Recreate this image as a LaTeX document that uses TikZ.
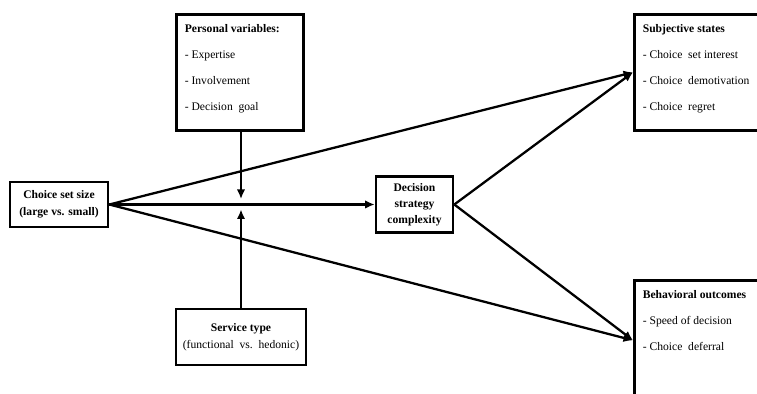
\documentclass[tikz,border=0pt]{standalone}
\usepackage{fontspec}
\setmainfont{Liberation Serif}
\usetikzlibrary{positioning,arrows.meta,calc}

\begin{document}
\begin{tikzpicture}[
    font=\fontsize{6.6}{9.4}\selectfont,
    box/.style={rectangle, draw=black, line width=1.5pt, minimum width=#1, align=center, inner sep=2pt, fill=white},
    listbox/.style={rectangle, draw=black, line width=1.5pt, anchor=north west, inner xsep=0.17cm, inner ysep=0.2cm, fill=white},
    arr/.style={-{Latex[length=1.9mm,width=1.7mm]}, line width=1.3pt, draw=black}
]

% Frame of the picture
\clip (0,0) rectangle (15.14,7.88);
\fill[white] (0,0) rectangle (15.14,7.88);

% Left: independent variable
\node[box=1.96cm, minimum height=0.9cm] (choice) at (1.18, 3.79) {\textbf{Choice set size}\\\textbf{(large vs. small)}};

% Moderators
\node[listbox] (personal) at (3.5, 7.62) {\parbox[t][1.92cm][t]{2.2cm}{\raggedright\fontsize{6.6}{14.75}\selectfont
  \textbf{Personal variables:}\\- Expertise\\- Involvement\\- Decision\ \ goal}};
\node[box=2.6cm, minimum height=1.12cm] (service) at (4.82, 1.14) {\textbf{Service type}\\(functional\ \ vs.\ \ hedonic)};

% Mediator
\node[box=1.54cm, minimum height=1.12cm, font=\fontsize{6.6}{9}\selectfont\bfseries] (decision) at (8.29, 3.79) {Decision\\strategy\\complexity};

% Outcomes
\node[listbox] (subj) at (12.66, 7.62) {\parbox[t][1.92cm][t]{2.46cm}{\raggedright\fontsize{6.6}{14.75}\selectfont
  \textbf{Subjective states}\\- Choice\ \ set interest\\- Choice\ \ demotivation\\- Choice\ \ regret}};
\node[listbox] (behav) at (12.66, 2.3) {\parbox[t][2.0cm][t]{2.46cm}{\raggedright\fontsize{6.6}{14.75}\selectfont
  \textbf{Behavioral outcomes}\\- Speed of decision\\- Choice\ \ deferral}};

% Main paths
\draw[arr] (choice) -- (decision);
\draw[arr] (choice.east) -- (subj.west);
\draw[arr] (choice.east) -- (behav.west);
\draw[arr] (decision.east) -- (subj.west);
\draw[arr] (decision.east) -- (behav.west);

% Moderating arrows
\coordinate (modtop) at (4.82, 3.9);
\coordinate (modbot) at (4.82, 3.69);
\draw[arr] (personal.south -| modtop) -- (modtop);
\draw[arr] (service.north -| modbot) -- (modbot);

\end{tikzpicture}
\end{document}
